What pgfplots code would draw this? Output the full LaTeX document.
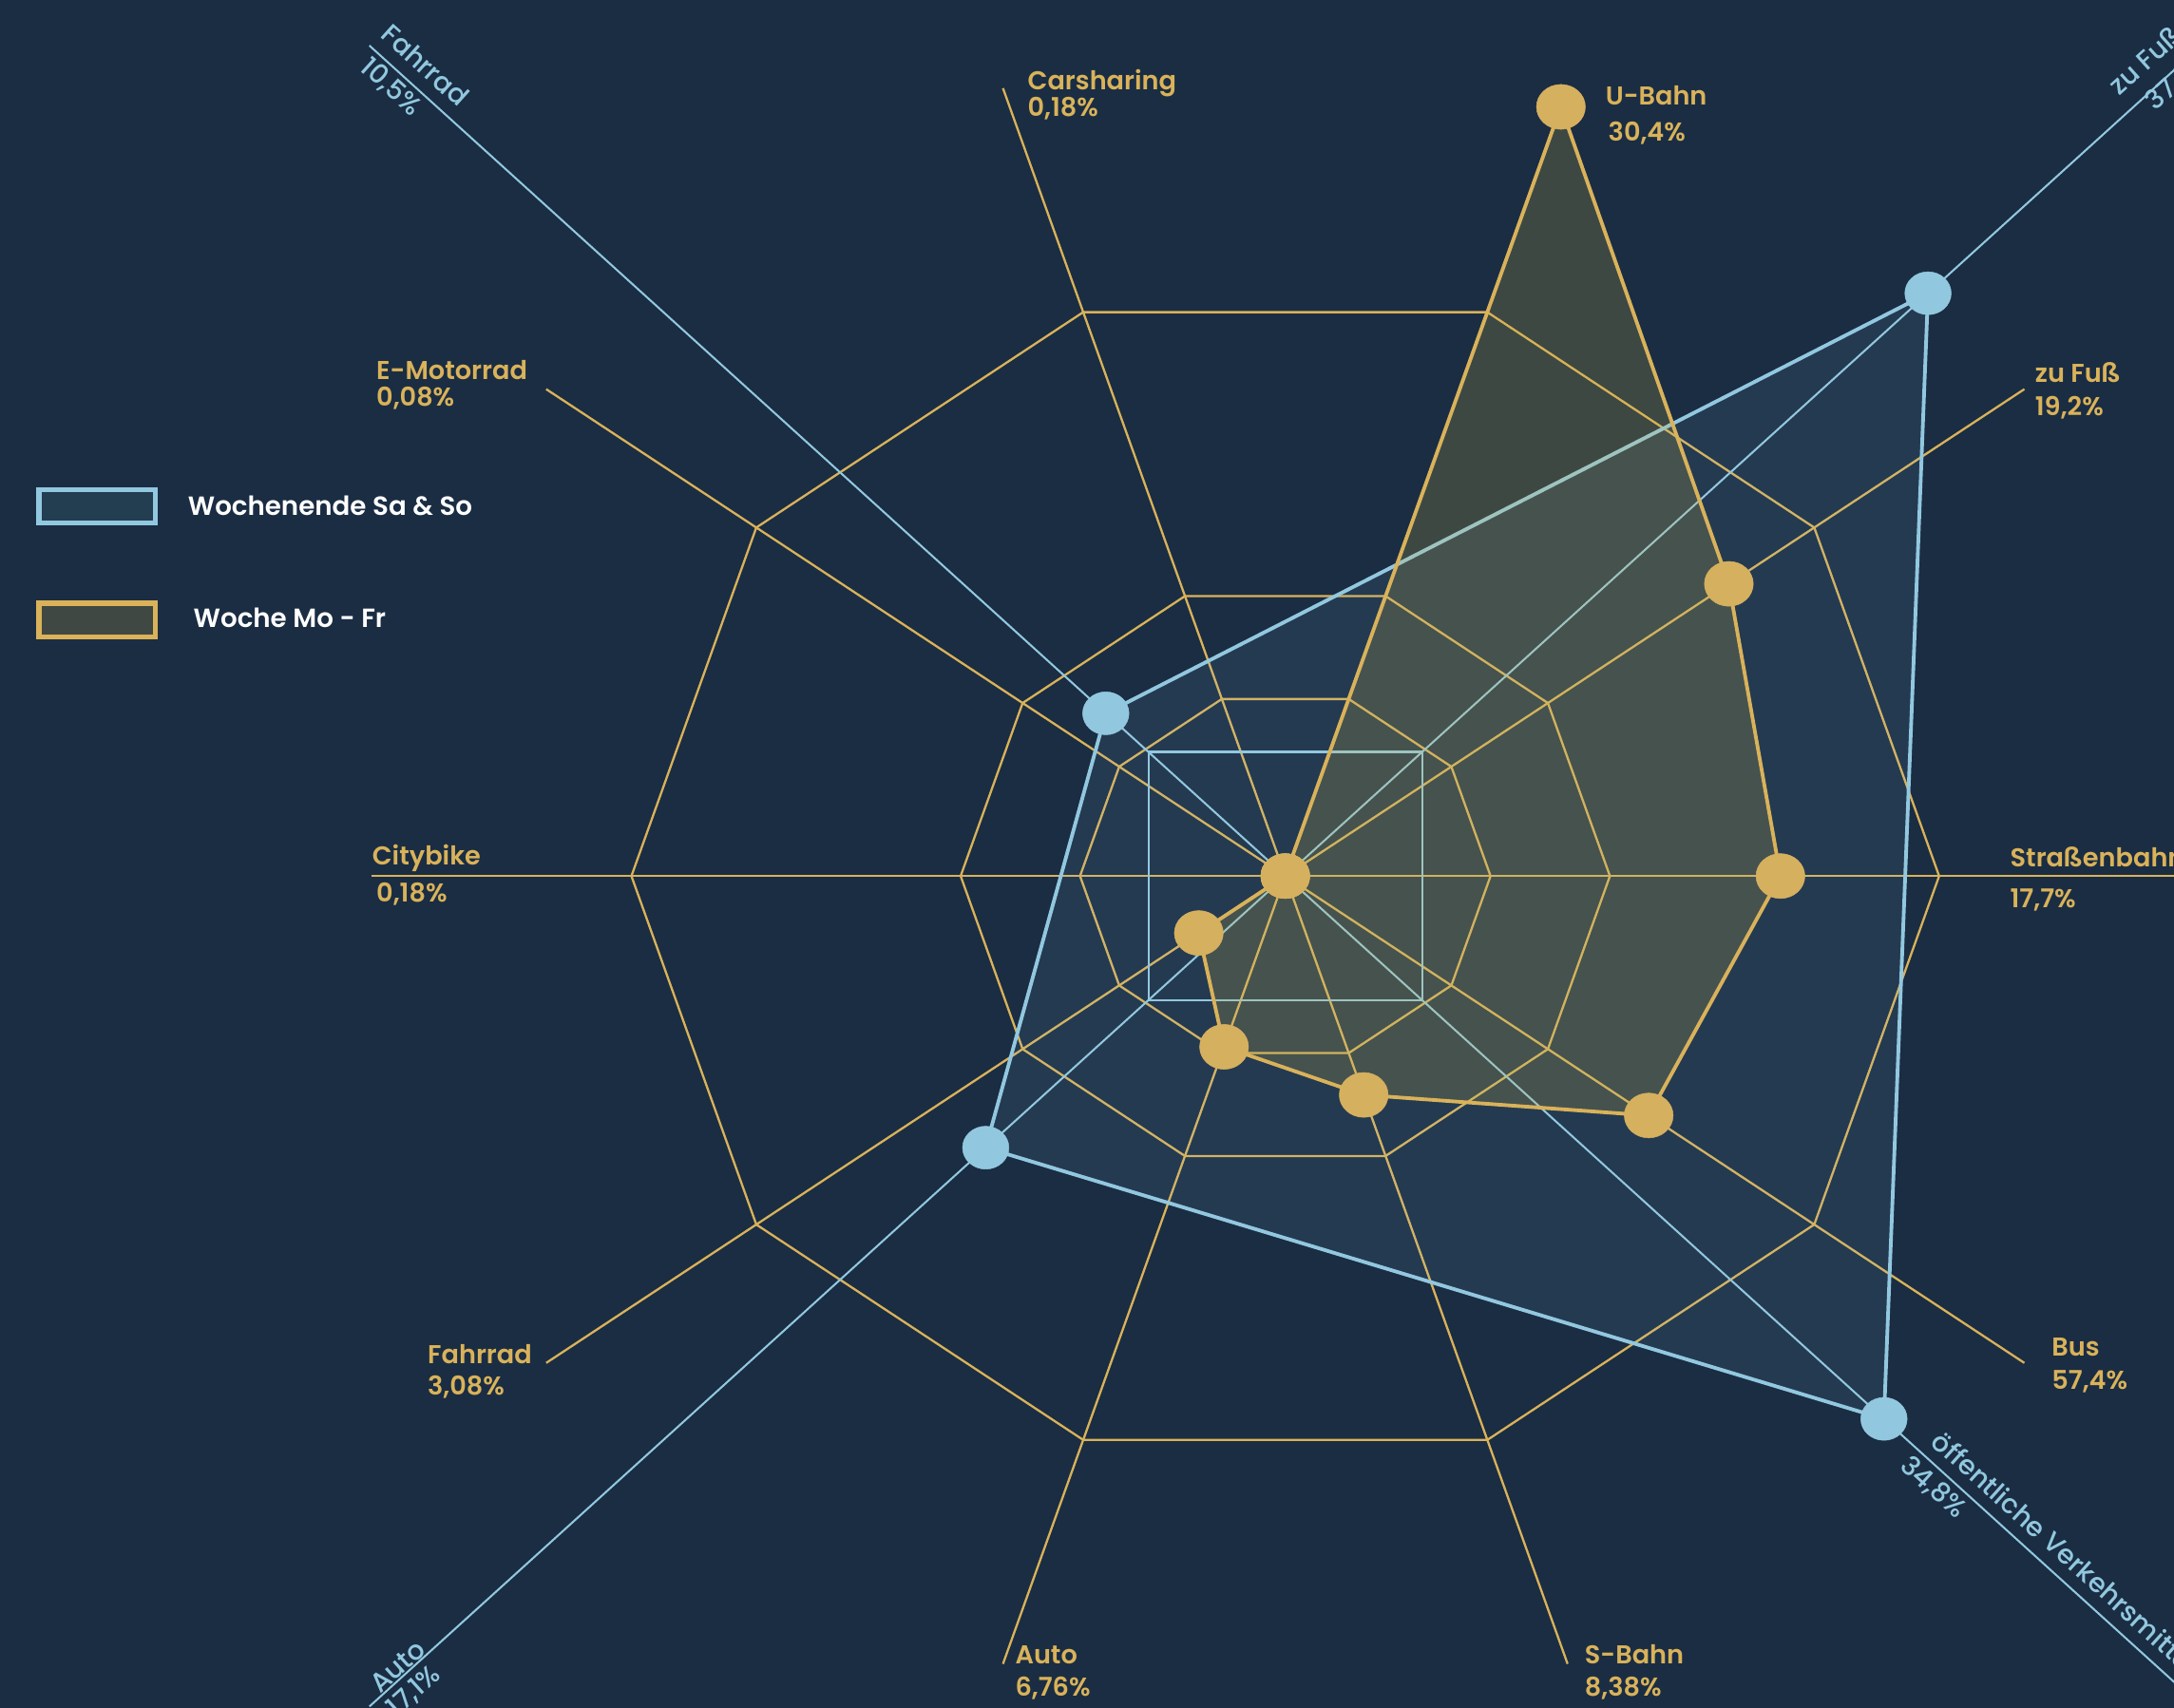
\documentclass[border=0pt]{standalone}
\usepackage{pgfplots}
\pgfplotsset{compat=1.18}
\usepackage{fontspec}
\setmainfont{Poppins}[UprightFont={* Medium},BoldFont={* SemiBold}]
\definecolor{bg}{RGB}{26,45,67}
\definecolor{gold}{RGB}{217,178,90}
\definecolor{golddot}{RGB}{213,176,95}
\definecolor{goldfill}{RGB}{207,180,67}
\definecolor{lblue}{RGB}{146,200,223}
\definecolor{legblue}{RGB}{35,61,81}
\definecolor{leggold}{RGB}{63,72,67}
\begin{document}
\begin{tikzpicture}
\fill[bg] (0,0) rectangle (15.68cm,12.32cm);
\begin{axis}[at={(0,0)}, anchor=south west, width=15.68cm, height=12.32cm,
  scale only axis, hide axis, clip=true,
  xmin=-1.9598, xmax=1.3552, ymin=-1.3986, ymax=1.4732]
% gold grid (decagons)
\addplot[gold, line width=0.45pt, data cs=polar] coordinates {(0,0.997)(36,0.997)(72,0.997)(108,0.997)(144,0.997)(180,0.997)(216,0.997)(252,0.997)(288,0.997)(324,0.997)} -- cycle;
\addplot[gold, line width=0.45pt, data cs=polar] coordinates {(0,0.495)(36,0.495)(72,0.495)(108,0.495)(144,0.495)(180,0.495)(216,0.495)(252,0.495)(288,0.495)(324,0.495)} -- cycle;
\addplot[gold, line width=0.45pt, data cs=polar] coordinates {(0,0.313)(36,0.313)(72,0.313)(108,0.313)(144,0.313)(180,0.313)(216,0.313)(252,0.313)(288,0.313)(324,0.313)} -- cycle;
% gold axes
\addplot[gold, line width=0.45pt, data cs=polar] coordinates {(0,0)(0,1.393)};
\addplot[gold, line width=0.45pt, data cs=polar] coordinates {(36,0)(36,1.393)};
\addplot[gold, line width=0.45pt, data cs=polar] coordinates {(72,0)(72,1.393)};
\addplot[gold, line width=0.45pt, data cs=polar] coordinates {(108,0)(108,1.393)};
\addplot[gold, line width=0.45pt, data cs=polar] coordinates {(144,0)(144,1.393)};
\addplot[gold, line width=0.45pt, data cs=polar] coordinates {(180,0)(180,1.393)};
\addplot[gold, line width=0.45pt, data cs=polar] coordinates {(216,0)(216,1.393)};
\addplot[gold, line width=0.45pt, data cs=polar] coordinates {(252,0)(252,1.393)};
\addplot[gold, line width=0.45pt, data cs=polar] coordinates {(288,0)(288,1.393)};
\addplot[gold, line width=0.45pt, data cs=polar] coordinates {(324,0)(324,1.393)};
% blue grid
\addplot[lblue, line width=0.45pt, data cs=polar] coordinates {(45,0.295)(135,0.295)(225,0.295)(315,0.295)} -- cycle;
\addplot[lblue, line width=0.4pt, data cs=polar] coordinates {(45,0)(45,1.975)};
\addplot[lblue, line width=0.4pt, data cs=polar] coordinates {(135,0)(135,1.975)};
\addplot[lblue, line width=0.4pt, data cs=polar] coordinates {(225,0)(225,1.975)};
\addplot[lblue, line width=0.4pt, data cs=polar] coordinates {(315,0)(315,1.975)};
% Wochenende Sa & So (blue)
\addplot[fill=lblue, fill opacity=0.09, draw=lblue, draw opacity=1, line width=0.75pt, data cs=polar] coordinates {(45,1.386)(135,0.387)(225,0.646)(315,1.291)} -- cycle;
% Woche Mo - Fr (gold)
\addplot[fill=goldfill, fill opacity=0.2, draw=gold, draw opacity=1, line width=0.75pt, data cs=polar] coordinates {(0,0.755)(36,0.836)(72,1.36)(108,0)(144,0)(180,0)(216,0.163)(252,0.302)(288,0.387)(324,0.685)} -- cycle;
% markers
\addplot[only marks, color=lblue, mark=*, mark size=4.4pt, mark options={fill=lblue, draw=lblue, line width=0.1pt, xscale=1.08}, data cs=polar] coordinates {(45,1.386)(135,0.387)(225,0.646)(315,1.291)};
\addplot[only marks, color=golddot, mark=*, mark size=4.6pt, mark options={fill=golddot, draw=golddot, line width=0.1pt, xscale=1.09}, data cs=polar] coordinates {(0,0.755)(36,0.836)(72,1.36)(108,0)(144,0)(180,0)(216,0.163)(252,0.302)(288,0.387)(324,0.685)};
\end{axis}
\begin{scope}[shift={(0cm,12.32cm)}, x=0.01cm, y=-0.01cm]
\tikzset{gl/.style={anchor=base west, inner sep=0pt, text=gold, font=\fontsize{5.3}{6.4}\selectfont\bfseries},
         bl/.style={anchor=center, inner sep=0pt, text=lblue, font=\fontsize{5.5}{6.6}\selectfont},
         lg/.style={anchor=base west, inner sep=0pt, text=white, font=\fontsize{5.4}{6.5}\selectfont\bfseries}}
\node[gl] at (741,65) {Carsharing};
\node[gl] at (741,84) {0,18\%};
\node[gl] at (1158,76) {U-Bahn};
\node[gl] at (1160,102) {30,4\%};
\node[gl] at (1468,276) {zu Fuß};
\node[gl] at (1468,300) {19,2\%};
\node[gl] at (1450,626) {Straßenbahn};
\node[gl] at (1450,655) {17,7\%};
\node[gl] at (1480,979) {Bus};
\node[gl] at (1480,1003) {57,4\%};
\node[gl] at (1143,1201) {S-Bahn};
\node[gl] at (1143,1224) {8,38\%};
\node[gl] at (732,1201) {Auto};
\node[gl] at (732,1224) {6,76\%};
\node[gl] at (308,984) {Fahrrad};
\node[gl] at (308,1007) {3,08\%};
\node[gl] at (268,624) {Citybike};
\node[gl] at (271,651) {0,18\%};
\node[gl] at (271,274) {E-Motorrad};
\node[gl] at (271,293) {0,08\%};
% blue rotated labels
\node[bl, rotate=-42] at (307,47) {Fahrrad};
\node[bl, rotate=-42] at (282,63) {10,5\%};
\node[bl, rotate=42] at (1548,43) {zu Fuß};
\node[bl, rotate=42] at (1572,58) {37,6\%};
\node[bl, rotate=-42, anchor=base west] at (1392,1042) {öffentliche Verkehrsmittel};
\node[bl, rotate=-42] at (1395,1074) {34,8\%};
\node[bl, rotate=42] at (287,1203) {Auto};
\node[bl, rotate=42] at (299,1221) {17,1\%};
% legend
\filldraw[fill=legblue, draw=lblue, line width=1.05pt] (28.2,353.3) rectangle (112.1,377.3);
\filldraw[fill=leggold, draw=gold, line width=1.05pt] (28.2,435.5) rectangle (112.1,459.6);
\node[lg] at (135,372) {Wochenende Sa \& So};
\node[lg] at (139,453) {Woche Mo - Fr};
\end{scope}
\pgfresetboundingbox
\path[use as bounding box] (0,0) rectangle (15.68cm,12.32cm);
\end{tikzpicture}
\end{document}
